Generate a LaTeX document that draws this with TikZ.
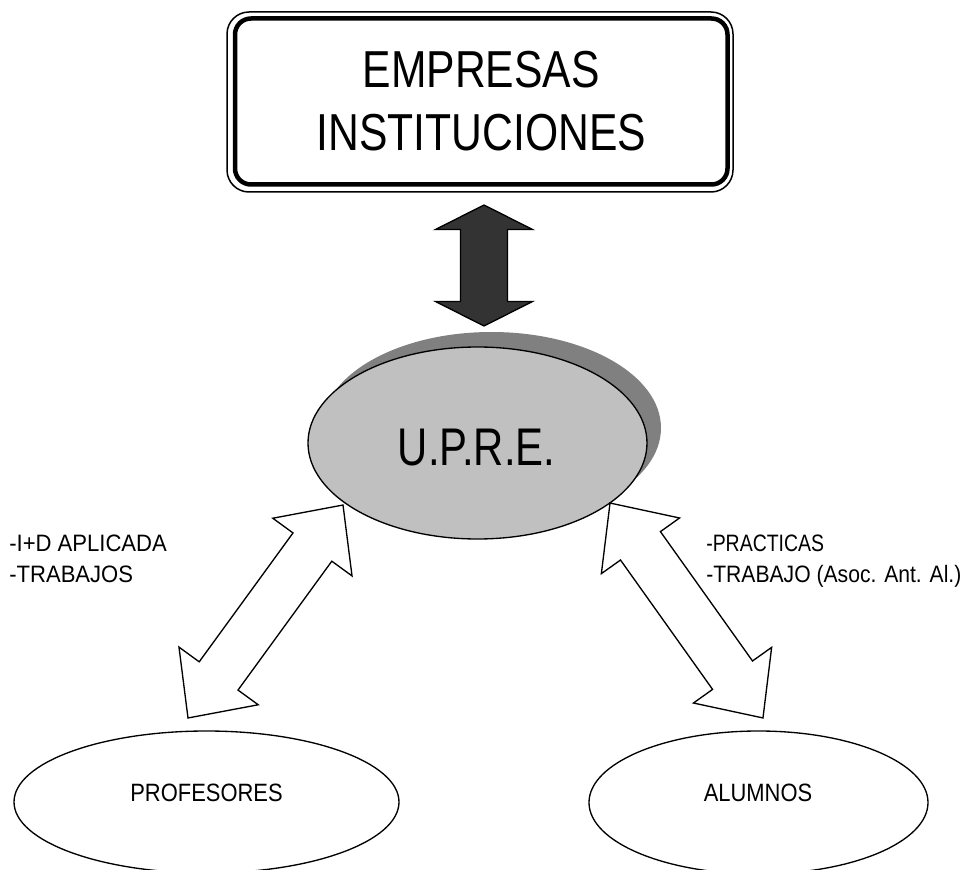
\documentclass[tikz,border=0pt]{standalone}
\usepackage{fontspec}
\setmainfont{Liberation Sans}
\newfontfamily\fbig[FakeStretch=0.82]{Liberation Sans}
\newfontfamily\fupre[FakeStretch=0.79]{Liberation Sans}
\newfontfamily\fmid[FakeStretch=0.875]{Liberation Sans}
\newfontfamily\flabA[FakeStretch=0.93]{Liberation Sans}
\newfontfamily\flabB[FakeStretch=0.82]{Liberation Sans}
\newfontfamily\flabC[FakeStretch=0.89]{Liberation Sans}
\usetikzlibrary{shapes.geometric,calc}
\definecolor{upre}{HTML}{C0C0C0}
\definecolor{upresh}{HTML}{808080}
\definecolor{darkarr}{HTML}{333333}
\def\u{0.75pt}
% #1 mid coordinate, #2 angle, #3 half length, #4 head length, #5 head half width, #6 shaft half width, #7 style
\newcommand\blockarrow[7]{%
  \begin{scope}[shift={(#1)},rotate=#2]
    \draw[#7] (#3,0) -- ({#3-#4},#5) -- ({#3-#4},#6) -- ({-#3+#4},#6) -- ({-#3+#4},#5) -- ({-#3},0)
      -- ({-#3+#4},{-#5}) -- ({-#3+#4},{-#6}) -- ({#3-#4},{-#6}) -- ({#3-#4},{-#5}) -- cycle;
  \end{scope}}
\tikzset{
  thinline/.style={draw=black, line width=1pt},
  whitearrow/.style={thinline, fill=white},
  darkarrow/.style={thinline, fill=darkarr},
  labeltext/.style={anchor=base west, inner sep=0pt},
  ovaltext/.style={anchor=base, inner sep=0pt, font=\fmid\fontsize{18.8}{22}\selectfont},
}
\newcommand\labsize{\fontsize{17.8}{21}\selectfont}
\begin{document}
\begin{tikzpicture}[x=0.75pt,y=-0.75pt]
\useasboundingbox (0,0) rectangle (968,870);
\clip (0,0) rectangle (968,870);

% top box
\node[draw=black, line width=4.5*\u, rounded corners=16*\u, minimum width=492.5*\u, minimum height=166*\u,
      inner sep=0pt, align=center, font=\fbig\fontsize{39}{47.25}\selectfont] (emp) at (481.25,101.5)
      {EMPRESAS\\INSTITUCIONES};
\draw[line width=1.5*\u, rounded corners=22*\u] (227,12) rectangle (733,192);

% U.P.R.E. ellipse with shadow
\node[ellipse, fill=upresh, inner sep=0pt, minimum width=339*\u, minimum height=192*\u] (shadow) at (491.5,428) {};
\node[ellipse, thinline, fill=upre, inner sep=0pt, minimum width=339*\u, minimum height=192*\u] (upre) at (477.5,443) {};
\node[anchor=base, inner sep=0pt, font=\fupre\fontsize{39.75}{44}\selectfont] (upret) at (476.5,465) {U.P.R.E.};

% bottom ellipses
\node[ellipse, thinline, inner sep=0pt, minimum width=385*\u, minimum height=142*\u] (prof) at (206.5,802) {};
\node[ovaltext] (proft) at (206.5,801) {PROFESORES};
\node[ellipse, thinline, inner sep=0pt, minimum width=339*\u, minimum height=143*\u] (alum) at (758.5,802.5) {};
\node[ovaltext] (alumt) at (758,801) {ALUMNOS};

% labels
\node[labeltext, font=\flabA\labsize] (l1) at (9,551) {-I+D APLICADA};
\node[labeltext, font=\flabA\labsize] (l2) at (9,582) {-TRABAJOS};
\node[labeltext, font=\flabB\labsize] (r1) at (706,551) {-PRACTICAS};
\node[labeltext, font=\flabC\labsize] (r2) at (706,582) {-TRABAJO (Asoc. Ant. Al.)};

% block arrows
\coordinate (da) at (484,205);
\coordinate (db) at (484,326);
\coordinate (dm) at ($(da)!0.5!(db)$);
\blockarrow{dm}{90}{60.5}{24.5}{48.5}{23.5}{darkarrow}

\coordinate (la) at (343,505);
\coordinate (lb) at (188,718);
\coordinate (lm) at ($(la)!0.5!(lb)$);
\blockarrow{lm}{53.95}{131.7}{52}{49}{24}{whitearrow}

\coordinate (ra) at (610,503);
\coordinate (rb) at (763,718);
\coordinate (rm) at ($(ra)!0.5!(rb)$);
\blockarrow{rm}{125.44}{131.9}{52.5}{48}{24.5}{whitearrow}
\end{tikzpicture}
\end{document}
